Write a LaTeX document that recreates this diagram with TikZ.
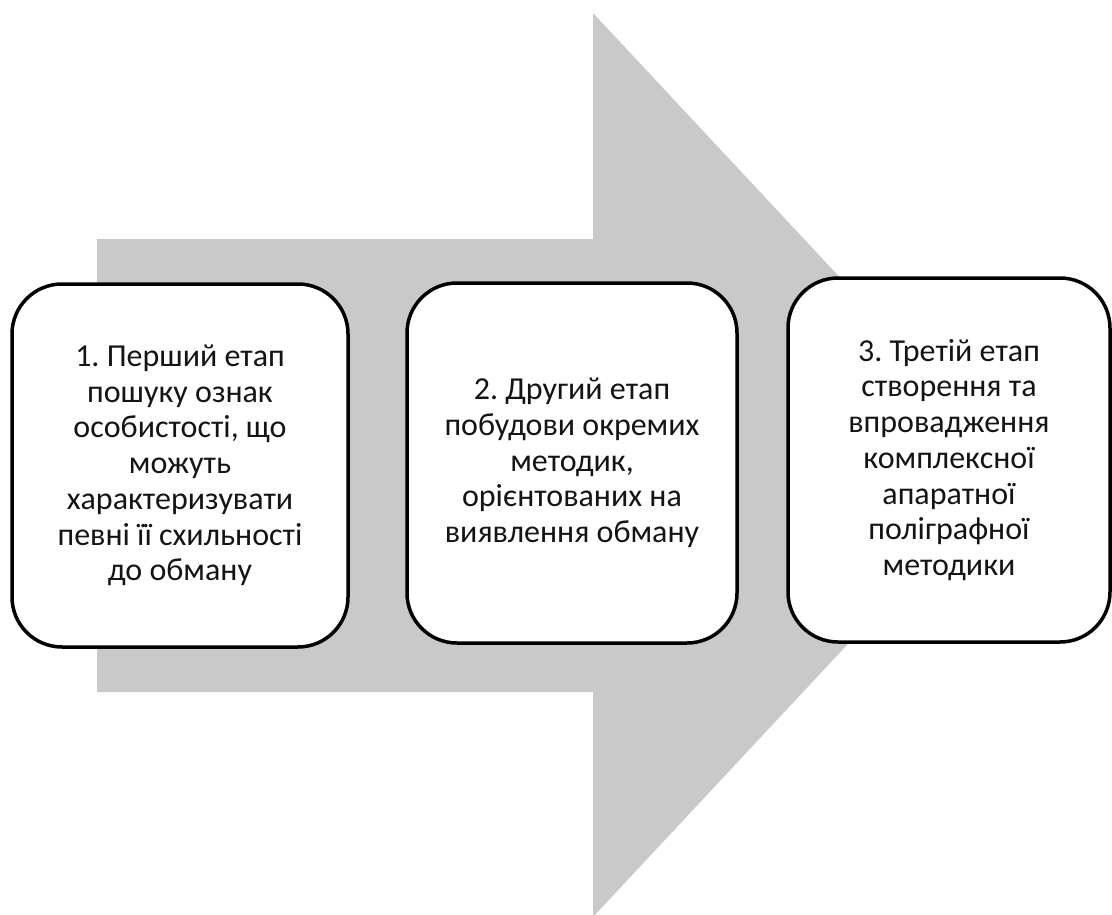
\documentclass[tikz,border=0pt]{standalone}
\usepackage{fontspec}
\setmainfont{Carlito}
\definecolor{arrowgray}{RGB}{201,201,201}
\definecolor{textdark}{RGB}{20,20,20}
\tikzset{
  stagebox/.style={draw=black, line width=3.5pt, fill=white, rounded corners=50pt,
    align=center, inner sep=0pt, font=\fontsize{32}{35.7}\selectfont\frenchspacing, text=textdark},
}
\begin{document}
\begin{tikzpicture}[x=1pt,y=-1pt]
\useasboundingbox (0,0) rectangle (1112,915);
\begin{scope}
\clip (0,0) rectangle (1112,915);
\fill[arrowgray] (97,239) -- (593,239) -- (593,13) -- (1015,465) -- (593,917) -- (593,692) -- (97,692) -- cycle;
\end{scope}
\node[stagebox, minimum width=336pt, minimum height=363pt] (s1) at (180,465.5)
  {1. Перший етап\\пошуку ознак\\особистості, що\\можуть\\характеризувати\\певні її схильності\\до обману};
\node[stagebox, minimum width=330pt, minimum height=360pt] (s2) at (572,463)
  {2. Другий етап\\побудови окремих\\методик,\\орієнтованих на\\виявлення обману};
\node[stagebox, minimum width=322pt, minimum height=364pt] (s3) at (949,460)
  {3. Третій етап\\створення та\\впровадження\\комплексної\\апаратної\\поліграфної\\методики};
\end{tikzpicture}
\end{document}
